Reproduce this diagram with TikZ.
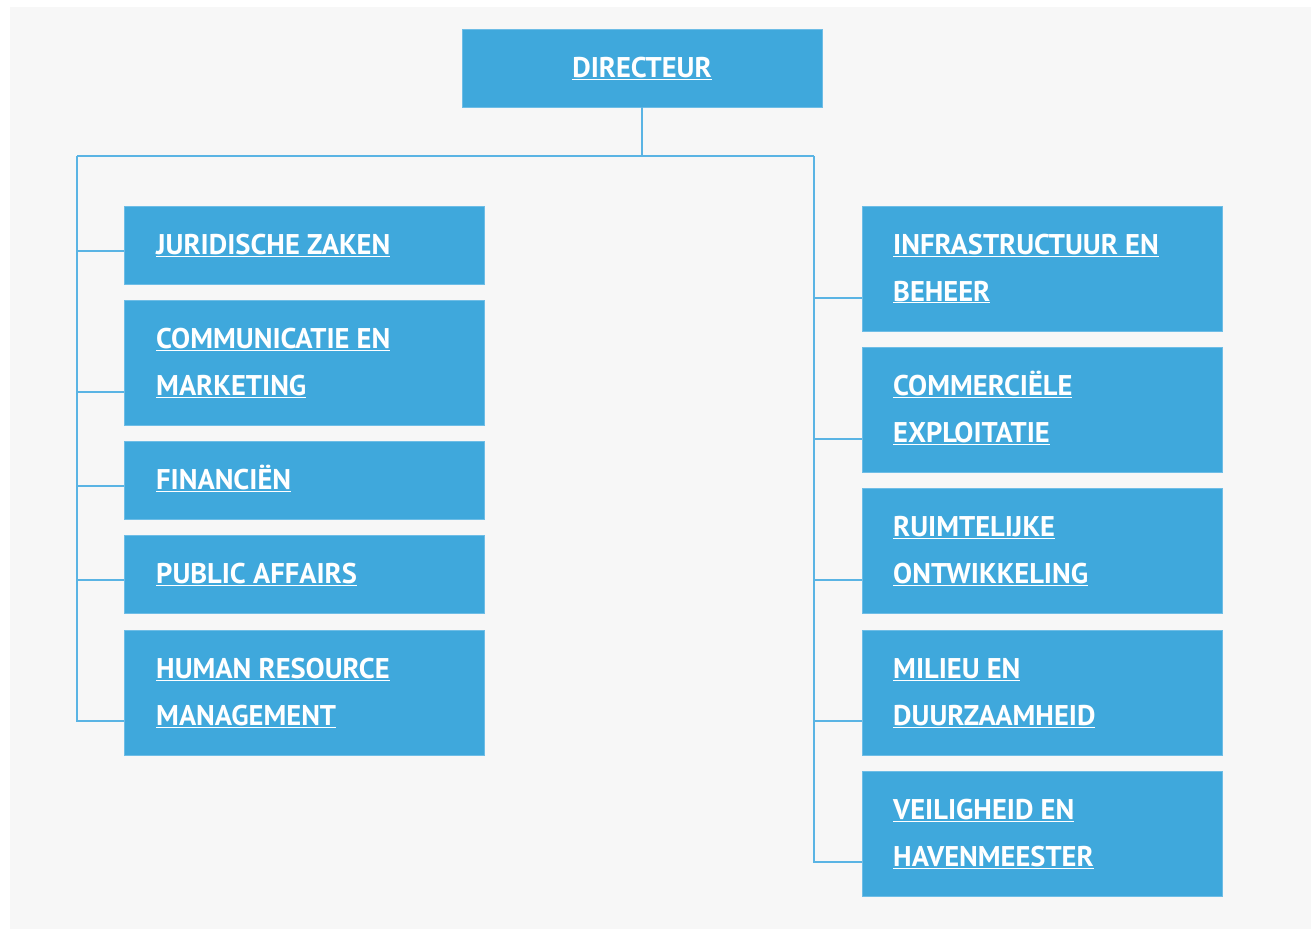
\documentclass[tikz,border=0pt]{standalone}
\usepackage{fontspec}
\setmainfont{PT Sans}
\definecolor{bgc}{HTML}{F7F7F7}
\definecolor{boxblue}{HTML}{3FA8DC}
\definecolor{boxedge}{HTML}{6EBDE6}
\definecolor{linec}{HTML}{5AB4E4}
\newcommand{\twolines}[2]{\begin{tabular}[t]{@{}l@{}}\underline{#1}\\\underline{#2}\end{tabular}}
\begin{document}
\begin{tikzpicture}[x=1pt,y=1pt,
  box/.style={fill=boxblue, draw=boxedge, line width=1pt, anchor=north west, minimum width=360pt, inner sep=0pt, outer sep=0pt},
  one/.style={box, minimum height=78pt},
  two/.style={box, minimum height=125pt},
  lbl/.style={text=white, inner sep=0pt, anchor=base west, font=\fontsize{28.5}{47}\selectfont\bfseries},
  conn/.style={draw=linec, line width=1.5pt}]
\fill[white] (0,0) rectangle (1311,-929);
\fill[bgc] (10,-7) rectangle (1311,-929);
\useasboundingbox (0,0) rectangle (1311,-929);
% director
\node[box, minimum width=360pt, minimum height=78pt] (dir) at (462,-29) {};
\node[lbl, anchor=base] (dirt) at (642,-77) {\underline{DIRECTEUR}};
% left boxes
\node[one] (jur) at (124,-206) {};
\node[two] (com) at (124,-300) {};
\node[one] (fin) at (124,-441) {};
\node[one] (pub) at (124,-535) {};
\node[two] (hrm) at (124,-630) {};
% right boxes
\node[two] (inf) at (862,-206) {};
\node[two] (cex) at (862,-347) {};
\node[two] (rui) at (862,-488) {};
\node[two] (mil) at (862,-630) {};
\node[two] (vei) at (862,-771) {};
% labels
\node[lbl] (jurt) at ([xshift=32pt,yshift=-48pt]jur.north west) {\underline{JURIDISCHE ZAKEN}};
\node[lbl] (comt) at ([xshift=32pt,yshift=-48pt]com.north west) {\twolines{COMMUNICATIE EN}{MARKETING}};
\node[lbl] (fint) at ([xshift=32pt,yshift=-48pt]fin.north west) {\underline{FINANCIËN}};
\node[lbl] (pubt) at ([xshift=32pt,yshift=-48pt]pub.north west) {\underline{PUBLIC AFFAIRS}};
\node[lbl] (hrmt) at ([xshift=32pt,yshift=-48pt]hrm.north west) {\twolines{HUMAN RESOURCE}{MANAGEMENT}};
\node[lbl] (inft) at ([xshift=31pt,yshift=-48pt]inf.north west) {\twolines{INFRASTRUCTUUR EN}{BEHEER}};
\node[lbl] (cext) at ([xshift=31pt,yshift=-48pt]cex.north west) {\twolines{COMMERCIËLE}{EXPLOITATIE}};
\node[lbl] (ruit) at ([xshift=31pt,yshift=-48pt]rui.north west) {\twolines{RUIMTELIJKE}{ONTWIKKELING}};
\node[lbl] (milt) at ([xshift=31pt,yshift=-48pt]mil.north west) {\twolines{MILIEU EN}{DUURZAAMHEID}};
\node[lbl] (veit) at ([xshift=31pt,yshift=-48pt]vei.north west) {\twolines{VEILIGHEID EN}{HAVENMEESTER}};
% connectors
\coordinate (top) at (642,-156);
\coordinate (lb) at (77,-156);
\coordinate (rb) at (814,-156);
\draw[conn] (dir.south) -- (top);
\draw[conn] (lb) -- (rb);
\draw[conn] (lb) |- ([yshift=-45pt]jur.north west);
\draw[conn] (lb) |- ([yshift=-92pt]com.north west);
\draw[conn] (lb) |- ([yshift=-45pt]fin.north west);
\draw[conn] (lb) |- ([yshift=-45pt]pub.north west);
\draw[conn] (lb) |- ([yshift=-91pt]hrm.north west);
\draw[conn] (rb) |- ([yshift=-92pt]inf.north west);
\draw[conn] (rb) |- ([yshift=-92pt]cex.north west);
\draw[conn] (rb) |- ([yshift=-92pt]rui.north west);
\draw[conn] (rb) |- ([yshift=-91pt]mil.north west);
\draw[conn] (rb) |- ([yshift=-91pt]vei.north west);
\end{tikzpicture}
\end{document}
